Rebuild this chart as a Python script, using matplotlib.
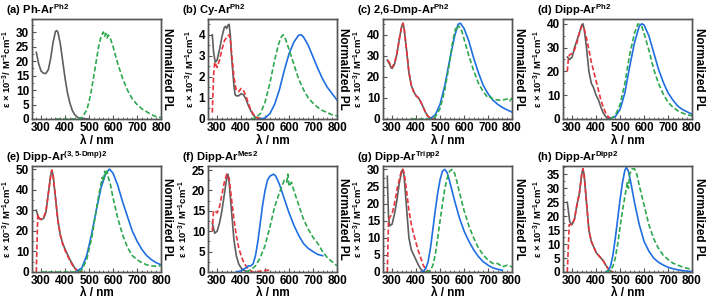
import matplotlib
matplotlib.use('Agg')
import matplotlib.pyplot as plt
import numpy as np
from matplotlib.ticker import MultipleLocator, AutoMinorLocator

plt.rcParams['font.family'] = ['Liberation Sans', 'DejaVu Sans']
plt.rcParams['font.weight'] = 'bold'
plt.rcParams['mathtext.fontset'] = 'custom'
plt.rcParams['mathtext.bf'] = 'Liberation Sans:bold'
plt.rcParams['mathtext.rm'] = 'Liberation Sans:bold'
plt.rcParams['mathtext.default'] = 'bf'

# ---- data: (wavelength nm, value in the left axis units) ----
titles = ['(a) Ph-Ar$^{Ph2}$', '(b) Cy-Ar$^{Ph2}$', '(c) 2,6-Dmp-Ar$^{Ph2}$', '(d) Dipp-Ar$^{Ph2}$',
          '(e) Dipp-Ar$^{(3,5\\text{-}Dmp)2}$', '(f) Dipp-Ar$^{Mes2}$', '(g) Dipp-Ar$^{Tripp2}$',
          '(h) Dipp-Ar$^{Dipp2}$']
ytops = [34.5, 4.75, 47.5, 42, 51.5, 26, 31, 38]
ysteps = [5, 1, 10, 10, 10, 5, 5, 5]

# (a)
a_gray = [(280, 23), (290, 19), (300, 16.5), (310, 15.8), (320, 15.7), (330, 17), (340, 21), (350, 26.5),
          (360, 30.2), (365, 30.5), (370, 30), (380, 26), (390, 20), (400, 14), (410, 9), (420, 5.5),
          (430, 3), (440, 1.5), (450, 0.7), (460, 0.3), (480, 0.1), (500, 0)]
a_green = [(360, 0), (450, 0), (470, 0.5), (490, 3), (500, 6), (510, 10), (520, 15), (530, 20), (540, 25),
           (550, 28.5), (560, 30), (565, 28.5), (570, 29.5), (575, 28), (580, 29), (590, 27.5), (600, 25),
           (620, 19), (640, 14), (660, 10), (680, 7), (700, 5), (720, 3.5), (740, 2.5), (760, 1.5),
           (780, 0.8), (800, 0.5)]

# (b)
b_gray = [(280, 4.0), (285, 3.2), (292, 2.7), (300, 2.8), (310, 3.3), (320, 3.9), (330, 4.35), (335, 4.4),
          (340, 4.3), (345, 4.45), (350, 4.5), (355, 4.0), (360, 3.0), (370, 1.6), (375, 1.15), (380, 1.1),
          (390, 1.1), (400, 1.2), (410, 1.15), (420, 0.95), (430, 0.65), (440, 0.4), (450, 0.2),
          (460, 0.08), (480, 0.02), (500, 0)]
b_red = [(280, 0.3), (285, 2.0), (290, 2.7), (300, 2.45), (310, 2.8), (320, 3.3), (330, 3.7), (340, 3.9),
         (350, 4.0), (355, 3.8), (360, 3.2), (370, 2.0), (380, 1.35), (390, 1.3), (400, 1.45), (410, 1.35),
         (420, 1.1), (430, 0.75), (440, 0.45), (450, 0.25), (460, 0.1), (470, 0.05), (480, 0.02)]
b_green = [(440, 0), (460, 0.05), (480, 0.25), (500, 0.8), (520, 1.7), (540, 2.8), (555, 3.5), (565, 3.85),
           (575, 4.0), (585, 3.8), (600, 3.3), (620, 2.6), (640, 1.9), (660, 1.4), (680, 1.0), (700, 0.75),
           (720, 0.55), (740, 0.4), (760, 0.3), (780, 0.2), (800, 0.15)]
b_blue = [(480, 0), (500, 0.05), (520, 0.25), (540, 0.7), (560, 1.4), (580, 2.3), (600, 3.1), (620, 3.65),
          (640, 3.98), (650, 4.0), (660, 3.9), (680, 3.5), (700, 2.95), (720, 2.4), (740, 1.9), (760, 1.5),
          (780, 1.2), (800, 0.9)]

# (c)
c_gray = [(280, 28), (290, 26), (295, 24.5), (300, 24), (310, 26), (320, 31), (330, 38), (340, 44),
          (345, 45.5), (350, 43), (360, 33), (370, 22), (380, 16), (390, 13), (400, 11), (410, 10),
          (420, 8), (430, 5.5), (440, 3), (450, 1.2), (460, 0.4), (470, 0.1), (480, 0)]
c_red = [(282, 28), (290, 26.5), (295, 25), (300, 24.5), (310, 26.5), (320, 31), (330, 38), (340, 44),
         (345, 45.5), (350, 43.5), (360, 33), (370, 22.5), (380, 16), (390, 13), (400, 11), (410, 10),
         (420, 8), (430, 5.5), (440, 3), (450, 1.2), (460, 0.4), (470, 0.1), (480, 0)]
c_green = [(380, 0), (460, 0), (480, 1), (500, 5), (520, 14), (540, 27), (550, 35), (560, 41), (565, 43),
           (570, 42), (575, 44), (580, 44), (590, 42), (600, 38), (620, 30), (640, 23), (660, 17), (680, 13),
           (700, 10), (710, 10.5), (720, 9.5), (740, 9), (760, 9), (780, 9.5), (790, 8.5), (800, 10)]
c_blue = [(460, 0.3), (480, 2), (500, 7), (520, 16), (540, 28), (560, 39), (575, 45), (585, 45.5), (600, 43),
          (620, 37), (640, 29), (660, 22), (680, 16), (700, 12), (720, 9), (740, 7), (760, 5.5), (780, 4.3),
          (800, 3.3)]

# (d)
d_gray = [(280, 26), (290, 25), (300, 26), (310, 30), (320, 33), (330, 36), (340, 39.5), (345, 40),
          (350, 38), (360, 30), (370, 20), (380, 15), (390, 13), (400, 10), (410, 8), (420, 5), (430, 2.5),
          (440, 1), (450, 0.3), (460, 0)]
d_red = [(280, 20), (285, 26), (290, 27), (300, 27.5), (310, 29), (320, 32), (330, 36), (340, 39),
         (350, 38), (360, 34), (370, 29), (380, 24), (390, 20), (400, 16), (410, 12), (420, 8), (430, 5),
         (440, 2.5), (450, 1), (460, 0.3), (470, 0)]
d_green = [(460, 0), (480, 1.5), (500, 6), (520, 15), (540, 27), (560, 36), (575, 40), (590, 39), (600, 36),
           (620, 29), (640, 21), (660, 15), (680, 10.5), (700, 7), (720, 5), (740, 3.5), (760, 2.5),
           (780, 1.8), (800, 1.3)]
d_blue = [(460, 0.2), (480, 1), (500, 4), (520, 11), (540, 22), (560, 32), (580, 39), (590, 40), (600, 39.5),
          (620, 35), (640, 28), (660, 21), (680, 15.5), (700, 11), (720, 8), (740, 5.5), (760, 4), (780, 3),
          (800, 2)]

# (e)
e_gray = [(280, 30), (290, 26), (300, 25.5), (310, 26), (320, 29), (330, 38), (340, 47), (345, 49.5),
          (350, 47), (360, 36), (370, 25), (380, 18), (390, 14), (400, 11), (410, 8.5), (420, 6), (430, 4),
          (440, 2), (450, 0.8), (460, 0.2), (470, 0)]
e_red = [(280, 0), (286, 28), (290, 26.5), (300, 25.5), (310, 26.5), (320, 29.5), (330, 38), (340, 47),
         (345, 49.5), (350, 47), (360, 36), (370, 25), (380, 18), (390, 13.5), (400, 10.5), (410, 8),
         (420, 5.5), (430, 3.5), (440, 1.8), (450, 0.7), (460, 0.2), (470, 0)]
e_green = [(300, 0), (450, 0), (470, 1), (490, 6), (510, 16), (530, 30), (540, 37), (550, 43), (555, 46),
           (560, 44), (565, 49), (570, 47), (575, 49), (580, 46), (590, 42), (600, 36), (620, 26), (640, 18),
           (660, 12), (680, 8), (700, 6), (720, 4.5), (740, 3.5), (760, 3), (780, 2.8), (800, 3)]
e_blue = [(450, 0.5), (470, 2), (490, 8), (510, 18), (530, 30), (550, 41), (570, 48), (585, 50), (600, 48),
          (620, 42), (640, 34), (660, 27), (680, 20), (700, 15), (720, 11), (740, 8), (760, 6), (780, 4.5),
          (800, 3.5)]

# (f)
f_gray = [(280, 12), (290, 9.5), (300, 10), (310, 12), (320, 15), (330, 19), (340, 23), (345, 24),
          (350, 22), (360, 15), (370, 8), (380, 4), (390, 2), (400, 1), (410, 0.5), (420, 0.2), (430, 0)]
f_red = [(280, 10), (285, 15), (290, 15), (300, 14.5), (310, 16), (320, 19), (330, 22), (340, 24), (350, 23),
         (360, 18), (370, 13), (380, 9), (390, 6), (400, 4), (410, 2.5), (420, 1.5), (430, 0.8), (440, 0.3),
         (450, 0), (520, 0.5)]
f_blue = [(380, 0), (400, 0.3), (420, 1), (430, 1.5), (440, 1.5), (450, 2), (460, 4), (470, 7.5), (480, 12),
          (490, 16.5), (500, 20), (510, 22.5), (520, 23.5), (535, 24), (545, 23.5), (560, 21.5), (580, 18),
          (600, 14.5), (620, 11.5), (640, 9), (660, 7), (680, 5.8), (700, 5), (720, 4.3), (740, 4)]
f_green = [(420, 0), (440, 0.5), (460, 1.5), (480, 3.5), (500, 6.5), (520, 11), (540, 16), (560, 19.5),
           (570, 21), (580, 22.5), (590, 22), (595, 24), (600, 21), (610, 22), (620, 20), (640, 16.5),
           (660, 13), (680, 10.5), (700, 8.5), (720, 7), (740, 5), (760, 3.5), (780, 2.5), (800, 1.5)]

# (g)
g_gray = [(280, 28), (285, 16), (290, 13.5), (300, 14), (310, 17), (320, 21), (330, 26), (340, 29.5),
          (345, 30), (350, 28), (360, 19), (370, 10), (380, 6.5), (390, 5), (400, 3.5), (410, 2), (420, 0.8),
          (430, 0.2), (440, 0)]
g_red = [(280, 0), (285, 15), (290, 16), (300, 17), (310, 20), (320, 24), (330, 27), (340, 30), (345, 30),
         (350, 29), (360, 24), (370, 18), (380, 14), (390, 11), (400, 8.5), (410, 6), (420, 4), (430, 2),
         (440, 0.8), (450, 0.2), (460, 0)]
g_blue = [(420, 0), (430, 0.2), (440, 1), (450, 3), (460, 7), (470, 12.5), (480, 18), (490, 23), (500, 27),
          (510, 29.5), (520, 30), (530, 29), (540, 26.5), (560, 21), (580, 16), (600, 12), (620, 9),
          (640, 6.5), (660, 4.5), (680, 3), (700, 2), (720, 1.2), (740, 0.8), (760, 0.5)]
g_green = [(440, 0), (460, 0.5), (470, 2), (480, 5), (490, 10), (500, 15), (510, 20), (520, 24.5),
           (530, 27.5), (540, 29.5), (550, 30), (560, 29), (570, 26.5), (580, 23.5), (600, 18), (620, 13.5),
           (640, 10), (660, 7), (680, 5), (700, 3.5), (720, 2.5), (740, 2.5), (760, 1.5), (780, 2),
           (800, 1.5)]

# (h)
h_gray = [(280, 25), (290, 18), (300, 17), (310, 19), (320, 24), (330, 28), (340, 35), (345, 37), (350, 35),
          (360, 25), (370, 15), (380, 11), (390, 9), (400, 7), (410, 6), (420, 5), (430, 4), (440, 2.5),
          (450, 1.2), (460, 0.4), (470, 0)]
h_red = [(280, 0), (288, 17), (300, 17), (310, 19), (320, 24), (330, 28), (340, 35), (345, 37), (350, 35),
         (360, 25), (370, 15), (380, 11), (390, 9), (400, 7), (410, 6), (420, 5), (430, 4), (440, 2.5),
         (450, 1.2), (460, 0.4), (470, 0)]
h_blue = [(440, 0), (450, 0.5), (460, 2), (470, 6), (480, 12), (490, 19), (500, 26), (510, 32), (520, 36.5),
          (527, 37.5), (535, 36), (545, 32), (560, 25), (580, 17), (600, 11), (620, 7.5), (640, 5), (660, 3.5),
          (680, 2.5), (700, 1.7), (720, 1.2), (740, 0.8), (760, 0.5), (780, 0.3), (800, 0.2)]
h_green = [(440, 0), (460, 0.5), (470, 2), (480, 5), (490, 10), (500, 16), (510, 22), (520, 27), (530, 32),
           (535, 30), (540, 35), (550, 37), (560, 37), (570, 35), (580, 31), (600, 24), (620, 17), (640, 12),
           (660, 8.5), (680, 6), (700, 4.5), (720, 3.2), (740, 2.5), (760, 1.8), (780, 1.3), (800, 1)]

# absorption (gray, red) and PL (green, blue) per panel, None where absent
abs_curves = [(a_gray, None), (b_gray, b_red), (c_gray, c_red), (d_gray, d_red),
              (e_gray, e_red), (f_gray, f_red), (g_gray, g_red), (h_gray, h_red)]
pl_curves = [(a_green, None), (b_green, b_blue), (c_green, c_blue), (d_green, d_blue),
             (e_green, e_blue), (f_green, f_blue), (g_green, g_blue), (h_green, h_blue)]

GRAY = '#5e5e5e'
RED = '#e8353b'
GREEN = '#2ea84f'
BLUE = '#1f6fe0'

W, H = 709, 300
fig = plt.figure(figsize=(W / 100, H / 100), dpi=100)

lefts = [32, 208, 383, 563]
width = 129
rows = [(119, 100), (272, 106)]  # (bottom px, height px)

for i in range(8):
  r, c = divmod(i, 4)
  bottom, hgt = rows[r]
  ax = fig.add_axes([lefts[c] / W, (H - bottom) / H, width / W, hgt / H])
  ax2 = ax.twinx()

  gray, red = abs_curves[i]
  green, blue = pl_curves[i]
  # PL on twin axis, same scale as the left axis
  if blue is not None:
    d = np.array(blue)
    ax2.plot(d[:, 0], d[:, 1], color=BLUE, lw=1.2)
  if green is not None:
    d = np.array(green)
    ax2.plot(d[:, 0], d[:, 1], color=GREEN, lw=1.2, dashes=(3, 1.5))
  d = np.array(gray)
  ax.plot(d[:, 0], d[:, 1], color=GRAY, lw=1.2)
  if red is not None:
    d = np.array(red)
    ax.plot(d[:, 0], d[:, 1], color=RED, lw=1.2, dashes=(3, 1.5))

  for a in (ax, ax2):
    a.set_xlim(262, 800)
    a.set_ylim(0, ytops[i])
    for s in a.spines.values():
      s.set_color('#555555')
      s.set_linewidth(1.0)
  ax.xaxis.set_major_locator(MultipleLocator(100))
  ax.xaxis.set_minor_locator(MultipleLocator(20))
  ax.yaxis.set_major_locator(MultipleLocator(ysteps[i]))
  ax.yaxis.set_minor_locator(AutoMinorLocator(2))
  ax.tick_params(which='both', direction='in', top=False, right=False, labelsize=8.5, pad=2,
                 color='#555555')
  ax.tick_params(which='major', length=3)
  ax.tick_params(which='minor', length=1.5)
  ax2.set_yticks([])
  for lab in ax.get_xticklabels() + ax.get_yticklabels():
    lab.set_fontweight('bold')

  ax.set_xlabel('λ / nm', fontsize=8.5, fontweight='bold', labelpad=0 if r else 1)
  ax.set_ylabel('ε × 10$^{-3}$/ M$^{-1}$cm$^{-1}$', fontsize=6.8, fontweight='bold', labelpad=1.5)
  ax2.set_ylabel('Normalized PL', fontsize=8.5, fontweight='bold', rotation=-90, labelpad=9)
  ax.annotate(titles[i], xy=(0, 1), xycoords='axes fraction', xytext=(-19, 1),
              textcoords='offset points', ha='left', va='bottom', fontsize=8, fontweight='bold')

fig.savefig('out.png', dpi=100)
